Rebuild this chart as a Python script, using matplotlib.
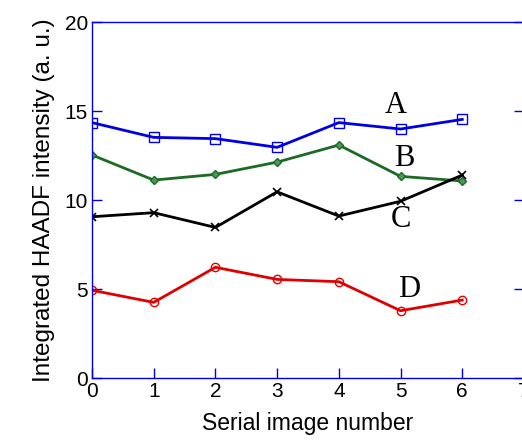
import matplotlib.pyplot as plt

images = [0, 1, 2, 3, 4, 5, 6]
series_a = [14.35, 13.52, 13.45, 12.96, 14.35, 13.99, 14.53]
series_b = [12.53, 11.12, 11.44, 12.13, 13.09, 11.33, 11.07]
series_c = [9.06, 9.29, 8.46, 10.46, 9.10, 9.93, 11.40]
series_d = [4.93, 4.25, 6.22, 5.54, 5.41, 3.78, 4.38]

fig = plt.figure(figsize=(5.22, 4.40), dpi=100)
ax = fig.add_axes([0.1762, 0.1409, 0.8276, 0.809])

ax.plot(images, series_a, color='#0000e6', lw=2, marker='s', ms=7, mfc='none', mec='#0000e6', mew=1)
ax.plot(images, series_b, color='#1b6b26', lw=2, marker='D', ms=4.5, mfc='#4a9a55', mec='#1b6b26', mew=1)
ax.plot(images, series_c, color='black', lw=2, marker='x', ms=6, mew=1.2)
ax.plot(images, series_d, color='#e00000', lw=2, marker='o', ms=6, mfc='none', mec='#e00000', mew=1)

serif = ['Liberation Serif', 'DejaVu Serif']
ax.text(4.93, 15.3, 'A', family=serif, fontsize=22, ha='center', va='center')
ax.text(5.06, 12.36, 'B', family=serif, fontsize=22, ha='center', va='center')
ax.text(5.01, 8.88, 'C', family=serif, fontsize=22, ha='center', va='center')
ax.text(5.14, 5.0, 'D', family=serif, fontsize=22, ha='center', va='center')

ax.set_xlim(0, 7)
ax.set_ylim(0, 20)
ax.set_xticks(range(0, 8))
ax.set_yticks([0, 5, 10, 15, 20])
for s in ax.spines.values():
    s.set_color('#0000e6')
    s.set_linewidth(1)
ax.tick_params(direction='in', length=7, width=1, color='#0000e6', right=True, top=False,
               labelsize=15, pad=3)
for lab in ax.get_xticklabels() + ax.get_yticklabels():
    lab.set_family(['Liberation Sans', 'DejaVu Sans'])

ax.set_xlabel('Serial image number', family=['Liberation Sans', 'DejaVu Sans'], fontsize=16.5, labelpad=8)
ax.set_ylabel('Integrated HAADF intensity (a. u.)', family=['Liberation Sans', 'DejaVu Sans'], fontsize=17.5, labelpad=7)

fig.savefig('out.png', dpi=100)
